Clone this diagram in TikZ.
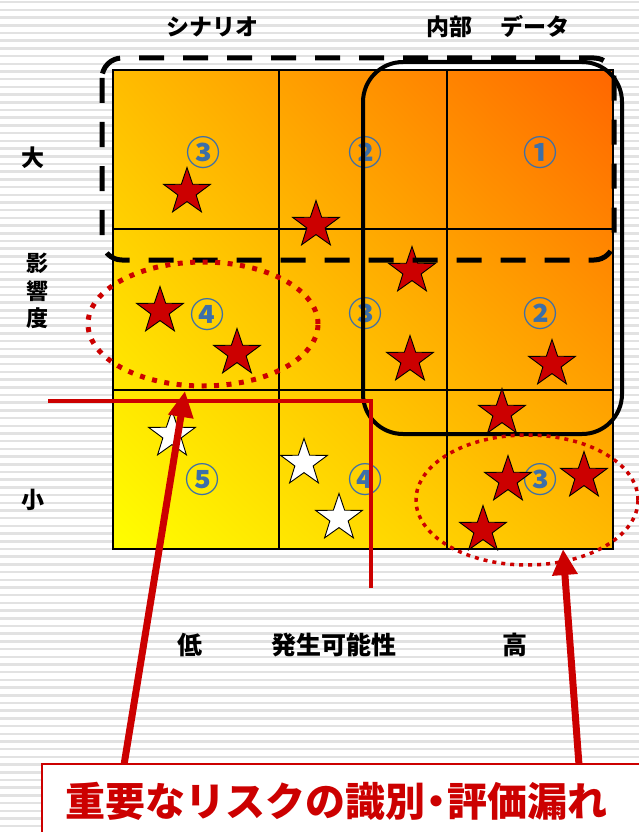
\documentclass[tikz,border=0pt]{standalone}
\usepackage{fontspec}
\setmainfont{Noto Sans CJK JP}
\usetikzlibrary{shapes.geometric,arrows.meta,shadings}
\definecolor{riskred}{HTML}{CC0000}
\definecolor{numblue}{HTML}{3D6FA8}
\definecolor{stripe}{HTML}{E2E2E2}
\definecolor{gridTL}{HTML}{FFBC00}
\definecolor{gridTR}{HTML}{FF6600}
\definecolor{gridBL}{HTML}{FFFF00}
\definecolor{gridBR}{HTML}{FFBA00}
\begin{document}
\begin{tikzpicture}[x=1pt,y=-1pt,
  redstar/.style={star, star points=5, star point ratio=2.55, minimum size=49pt,
    inner sep=0pt, draw=black, line width=0.9pt, fill=riskred},
  whitestar/.style={redstar, fill=white},
  num/.style={text=numblue, font=\fontsize{34}{34}\selectfont\bfseries, inner sep=0pt},
  lab/.style={font=\fontsize{23}{23}\selectfont\bfseries, inner sep=0pt},
  axislab/.style={font=\fontsize{25}{25}\selectfont\bfseries, inner sep=0pt},
  gridline/.style={draw=black, line width=1.6pt},
  scenario/.style={draw=black, line width=5pt, dash pattern=on 25pt off 19pt, rounded corners=20pt},
  internal/.style={draw=black, line width=4pt, rounded corners=40pt},
  riskring/.style={draw=riskred, ellipse, inner sep=0pt},
  redline/.style={draw=riskred, line width=4pt},
  redarrow/.style={draw=riskred, line width=7pt, -{Triangle[width=24pt,length=26pt]}},
  msgbox/.style={draw=riskred, line width=1.5pt, fill=white, inner sep=0pt, anchor=north west},
  msg/.style={text=riskred, font=\fontsize{40}{40}\selectfont\bfseries, inner sep=0pt}
]
\useasboundingbox (0,0) rectangle (639,832);
\clip (0,0) rectangle (639,832);
\fill[white] (0,0) rectangle (639,832);
\foreach \i in {0,...,108} {\fill[stripe] (0,\i*7.7+1) rectangle (639,\i*7.7+3.5);}

% matrix
\shade[lower left=gridBL, upper right=gridTR, upper left=gridTL, lower right=gridBR]
  (113,70) rectangle (613,549);
\draw[gridline] (113,70) rectangle (613,549);
\draw[gridline] (279,70) -- (279,549);
\draw[gridline] (447,70) -- (447,549);
\draw[gridline] (113,229) -- (613,229);
\draw[gridline] (113,390) -- (613,390);

% circled numbers
\node[num] (n11) at (203,153) {③};
\node[num] (n12) at (365,153) {②};
\node[num] (n13) at (540,153) {①};
\node[num] (n21) at (207,315) {④};
\node[num] (n22) at (365,314) {③};
\node[num] (n23) at (540,314) {②};
\node[num] (n31) at (202,480) {⑤};
\node[num] (n32) at (365,480) {④};
\node[num] (n33) at (540,480) {③};

% stars
\node[redstar] (s1) at (187,192) {};
\node[redstar] (s2) at (316,225) {};
\node[redstar] (s3) at (412,271) {};
\node[redstar] (s4) at (160,311) {};
\node[redstar] (s5) at (237,353) {};
\node[redstar] (s6) at (410,360) {};
\node[redstar] (s7) at (552,364) {};
\node[redstar] (s8) at (502,413) {};
\node[redstar] (s9) at (508,480) {};
\node[redstar] (s10) at (584,476) {};
\node[redstar] (s11) at (483,530) {};
\node[whitestar] (w1) at (172,435) {};
\node[whitestar] (w2) at (304,463) {};
\node[whitestar] (w3) at (339,518) {};

% groupings
\draw[scenario] (102,58) rectangle (614,260);
\draw[internal] (363,62) rectangle (622,434);
\node[riskring, line width=5pt, dash pattern=on 5pt off 7.5pt,
  minimum width=230pt, minimum height=124pt] (ringL) at (203,324) {};
\node[riskring, line width=3.5pt, dash pattern=on 4pt off 5pt,
  minimum width=222pt, minimum height=130pt] (ringR) at (527,500) {};

% labels
\node[lab] (scen) at (212,27) {シナリオ};
\node[lab] (intd) at (498,27) {内部\hspace{1.2em}データ};
\node[lab] (big) at (33,158) {大};
\node[lab] (small) at (33,500) {小};
\node[lab, font=\fontsize{22}{27.5}\selectfont\bfseries, align=center] (impact) at (38,291) {影\\響\\度};
\node[axislab] (low) at (190,645) {低};
\node[axislab] (prob) at (334,645) {発生可能性};
\node[axislab] (high) at (515,645) {高};

% red threshold line
\coordinate (hl) at (48,401);
\coordinate (crn) at (371,401);
\coordinate (vl) at (371,588);
\draw[redline] (hl) -- (crn) -- (vl);

% arrows and message
\coordinate (aL) at (124,765);
\coordinate (tipL) at (185,391);
\coordinate (aR) at (579,765);
\coordinate (tipR) at (563,549);
\draw[redarrow] (aL) -- (tipL);
\draw[redarrow] (aR) -- (tipR);
\node[msgbox, minimum width=640pt, minimum height=100pt] (box) at (41,763) {};
\node[msg] (msgtext) at (336,801) {重要なリスクの識別\makebox[0.55em]{・}評価漏れ};
\end{tikzpicture}
\end{document}
